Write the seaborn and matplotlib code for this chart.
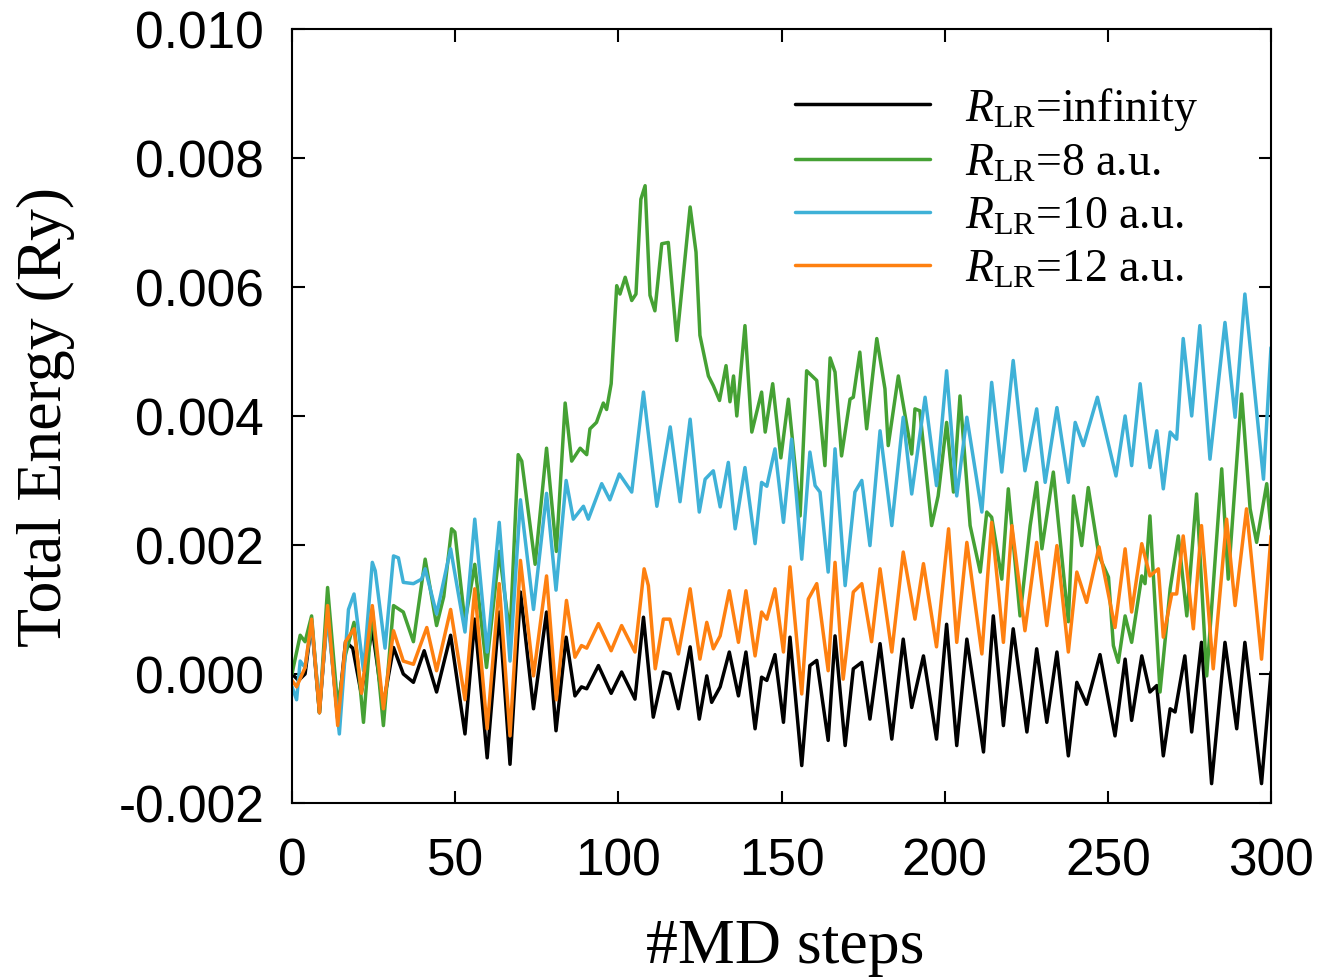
import numpy as np
import pandas as pd
import matplotlib
matplotlib.use("Agg")
import matplotlib.pyplot as plt
import seaborn as sns

# ---- total-energy drift along the MD trajectory (turning points of each curve) ----
steps_inf = [0, 2, 4, 6, 8.4, 10.9, 14, 16.4, 18.6, 21.2, 24.6, 27.9, 31.1, 34.1, 37.2, 40.5,
             44.3, 48.6, 53, 56, 59.8, 63.5, 66.8, 70, 74, 78, 80.9, 84, 86.7, 88.7, 90.3,
             93.9, 97.8, 101, 105.1, 107.7, 110.7, 113.8, 115.8, 118.4, 122, 124.8, 127.1,
             128.6, 131.2, 134, 136.8, 139.1, 141.9, 143.9, 145.5, 148, 150.6, 152.6, 156.2,
             158.7, 160.8, 164.3, 166.4, 169.5, 172, 174.6, 177.1, 180.2, 183.8, 187.3, 189.9,
             193.5, 197.5, 200.6, 203.7, 206.8, 211.9, 214.9, 218, 221, 225.2, 228.2, 231.3,
             234.4, 237.9, 240.5, 243.5, 247.6, 252.2, 255.3, 257.3, 260.4, 262.9, 265, 267,
             269.1, 270.6, 273.6, 275.7, 278.7, 281.8, 285.9, 289.5, 292, 297.1, 300]
energy_inf = [0.0, -0.0001, 0.0, 0.0008, -0.0006, 0.001, -0.0007, 0.0005, 0.0004, -0.0003,
              0.0007, -0.0005, 0.00041, 0.0, -0.00013, 0.00036, -0.00028, 0.0006, -0.00093,
              0.00085, -0.0013, 0.00096, -0.0014, 0.00127, -0.00054, 0.00096, -0.00088, 0.00057,
              -0.00034, -0.0002, -0.00023, 0.00013, -0.0003, 0.00003, -0.00039, 0.00088,
              -0.00067, 0.00003, 0.0, -0.00054, 0.00042, -0.0007, -0.00003, -0.00044, -0.0002,
              0.00034, -0.00034, 0.00034, -0.00085, -0.00005, -0.0001, 0.0003, -0.00075,
              0.00057, -0.00142, 0.00013, 0.00021, -0.00103, 0.00059, -0.00111, 0.00008,
              0.00018, -0.0007, 0.00047, -0.00101, 0.00054, -0.00052, 0.00028, -0.00101,
              0.00077, -0.00111, 0.00054, -0.00121, 0.0009, -0.0008, 0.0007, -0.0009, 0.00039,
              -0.00075, 0.00034, -0.00127, -0.00013, -0.00047, 0.0003, -0.00096, 0.00023,
              -0.00072, 0.00028, -0.00028, -0.00018, -0.00127, -0.00054, -0.00059, 0.00028,
              -0.0009, 0.00049, -0.0017, 0.00049, -0.00085, 0.00049, -0.0017, 0.00003]

steps_8 = [0, 0.4, 2.5, 4, 6, 8.4, 10.9, 14, 16.4, 19, 21.9, 24.6, 28, 31.1, 34.1, 37.2, 40.8,
           44.3, 46.5, 48.9, 49.9, 53, 56, 59.6, 63.5, 66.8, 69.3, 70.4, 74.5, 78, 81, 83.7,
           85.7, 88.3, 90.3, 91.3, 93.3, 95.4, 96.4, 97.8, 99.5, 100.5, 102.1, 104.1, 105.4,
           106.9, 108.2, 109.7, 111.2, 113.3, 115.3, 117.9, 122, 123.8, 125, 127.6, 129.1, 131,
           133, 134.2, 135.3, 136.3, 138.8, 140.9, 143.9, 145, 147.3, 149.8, 152.1, 155.7,
           157.7, 160.8, 163.3, 164.9, 166.4, 168.4, 171, 172, 174, 176.1, 179.2, 181.7, 182.7,
           185.8, 189.9, 190.9, 192.4, 196, 198, 200.6, 202.7, 204.7, 207.8, 210.9, 212.9,
           214.4, 217.5, 219.5, 223.1, 226.2, 228.2, 229.8, 233.3, 237.9, 239.5, 242, 244,
           247.3, 250.2, 251.7, 253.2, 255.3, 257.3, 260.4, 261.4, 262.9, 266, 269.1, 271.6,
           274.2, 277.2, 280.3, 284.9, 286.9, 291, 293.6, 295.6, 298.7, 300]
energy_8 = [0.0, 0.0001, 0.0006, 0.0005, 0.0009, -0.0006, 0.00134, -0.0005, 0.0003, 0.0008,
            -0.00075, 0.001, -0.0008, 0.00106, 0.00096, 0.0005, 0.00178, 0.00075, 0.0012,
            0.00225, 0.0022, 0.0008, 0.0017, 0.0001, 0.0019, 0.0006, 0.0034, 0.0033, 0.0017,
            0.0035, 0.0019, 0.0042, 0.0033, 0.0035, 0.0034, 0.0038, 0.0039, 0.0042, 0.0041,
            0.0045, 0.00602, 0.00589, 0.00615, 0.00579, 0.00589, 0.00736, 0.00757, 0.00587,
            0.00563, 0.00667, 0.00669, 0.00517, 0.00724, 0.00654, 0.00525, 0.00462, 0.00447,
            0.00424, 0.00478, 0.00422, 0.00462, 0.004, 0.0054, 0.00375, 0.00437, 0.00375,
            0.0045, 0.00335, 0.00426, 0.00245, 0.0047, 0.00455, 0.00323, 0.0049, 0.00468,
            0.00338, 0.00426, 0.00429, 0.00499, 0.0038, 0.0052, 0.00442, 0.00354, 0.00462,
            0.00341, 0.00411, 0.00408, 0.0023, 0.00276, 0.0039, 0.00282, 0.00431, 0.0023,
            0.00158, 0.00251, 0.00243, 0.00147, 0.00287, 0.0009, 0.0023, 0.00297, 0.00194,
            0.00313, 0.00081, 0.00276, 0.00199, 0.00289, 0.00183, 0.0015, 0.00044, 0.00018,
            0.0009, 0.00049, 0.00152, 0.0014, 0.00245, -0.00028, 0.00132, 0.00214, 0.0009,
            0.00279, -0.00003, 0.00318, 0.00147, 0.00434, 0.00256, 0.00204, 0.00295, 0.00225]

steps_10 = [0, 1.4, 2.5, 4, 6, 8.4, 10.9, 14.5, 17.3, 19, 21.9, 24.6, 25.5, 28.5, 31.1, 32.6,
            34.1, 37.2, 39.7, 40.8, 44.3, 48.6, 53, 56, 59.8, 63.5, 66.8, 70, 74, 78, 80.9, 84,
            86.2, 89.3, 90.8, 94.9, 97.4, 100.3, 104.1, 107.7, 111.8, 115.9, 118.9, 122, 124.8,
            126.6, 129.1, 131.2, 133.7, 135.8, 138.8, 141.9, 143.9, 145.5, 148, 150.6, 153.1,
            156.2, 158.7, 160.3, 161.8, 164.3, 166.4, 169.5, 172.5, 174.6, 177.1, 180.2, 183.8,
            187.3, 189.9, 194, 197.5, 200.6, 203.7, 206.8, 211.4, 214.4, 217.5, 221, 224.6,
            228.2, 230.8, 234.4, 237.9, 240, 242.5, 246.8, 252.5, 255.3, 257.3, 259.9, 262.9,
            265, 267, 269.1, 271.1, 273.1, 275.7, 278.2, 281.3, 285.9, 289, 292, 297.7, 300]
energy_10 = [-0.0002, -0.0004, 0.0002, 0.0001, 0.0008, -0.0005, 0.0009, -0.00093, 0.001,
             0.00124, 0.00005, 0.00173, 0.0016, 0.0004, 0.00183, 0.0018, 0.00142, 0.0014,
             0.00147, 0.00163, 0.00093, 0.00194, 0.00065, 0.0024, 0.00034, 0.00235, 0.0002,
             0.0027, 0.001, 0.0028, 0.0013, 0.003, 0.0024, 0.0026, 0.0024, 0.00295, 0.0027,
             0.0031, 0.00282, 0.00437, 0.0026, 0.00383, 0.00267, 0.00395, 0.00251, 0.00302,
             0.00315, 0.00259, 0.00328, 0.00225, 0.0032, 0.00202, 0.00297, 0.00291, 0.00349,
             0.00235, 0.00364, 0.00178, 0.00344, 0.00292, 0.00282, 0.00158, 0.00349, 0.00137,
             0.00282, 0.003, 0.00199, 0.00377, 0.0023, 0.00398, 0.00279, 0.00429, 0.00292,
             0.0047, 0.00276, 0.00398, 0.00251, 0.00452, 0.00313, 0.00486, 0.00315, 0.00411,
             0.00297, 0.00413, 0.00297, 0.0039, 0.00354, 0.00429, 0.00307, 0.004, 0.00323,
             0.0045, 0.0032, 0.00377, 0.00287, 0.00375, 0.00364, 0.0052, 0.004, 0.0054,
             0.00333, 0.00545, 0.00398, 0.00589, 0.00302, 0.00506]

steps_12 = [0, 1.4, 4, 6, 8.4, 10.9, 14, 16.4, 19, 21.3, 24.6, 28, 31.1, 34.1, 37.2, 41.3,
            44.3, 48.6, 53, 56, 59.8, 63.5, 66.8, 70, 74, 78, 81, 84.1, 86.7, 88.7, 90.3, 93.9,
            97.8, 101, 105.1, 107.9, 109.2, 111.3, 113.8, 115.8, 118.4, 122, 125, 127.1, 129.1,
            131.2, 134, 136.8, 139.1, 141.9, 143.9, 145.5, 148, 150.6, 152.6, 156.2, 158.2,
            160.8, 164.3, 166.4, 168.9, 172, 174.6, 177.6, 180.2, 183.8, 187.3, 190.9, 193.5,
            197.5, 201.2, 203.7, 206.8, 211.4, 214.4, 218, 220.6, 224.6, 228.2, 231.3, 234.4,
            237.9, 240.5, 243.5, 247.3, 252.2, 255.3, 257.3, 260.4, 262.9, 265.5, 267, 269.6,
            271.1, 273.1, 276.2, 278.7, 282.3, 286.4, 289, 292.5, 297.1, 300]
energy_12 = [-0.0001, -0.0002, 0.0001, 0.00085, -0.0006, 0.00106, -0.0008, 0.0005, 0.0007,
             -0.0003, 0.00106, -0.00054, 0.00067, 0.0002, 0.00015, 0.00072, 0.00005, 0.001,
             -0.0004, 0.00132, -0.00085, 0.0014, -0.00096, 0.00176, -0.00003, 0.00152, -0.0004,
             0.00114, 0.00026, 0.00044, 0.0004, 0.00078, 0.00036, 0.00075, 0.00034, 0.00163,
             0.00137, 0.00008, 0.00085, 0.00085, 0.00031, 0.00132, 0.00023, 0.0008, 0.00039,
             0.00059, 0.00129, 0.00049, 0.00129, 0.00028, 0.00096, 0.00085, 0.00132, 0.00034,
             0.00166, -0.00031, 0.00116, 0.0014, 0.00005, 0.00173, -0.00008, 0.00127, 0.0014,
             0.0005, 0.00163, 0.00034, 0.00189, 0.00085, 0.00171, 0.00042, 0.00225, 0.00049,
             0.00204, 0.00031, 0.00235, 0.00049, 0.0023, 0.00067, 0.00204, 0.00075, 0.00199,
             0.00034, 0.00158, 0.00111, 0.00197, 0.00072, 0.00194, 0.00096, 0.00202, 0.00152,
             0.00163, 0.00057, 0.00124, 0.00124, 0.00214, 0.0007, 0.0023, 0.00008, 0.0024,
             0.00106, 0.00256, 0.00023, 0.00214]

series_names = ["inf", "8", "10", "12"]
series_labels = [r"$R_{\mathrm{LR}}$=infinity", r"$R_{\mathrm{LR}}$=8 a.u.",
                 r"$R_{\mathrm{LR}}$=10 a.u.", r"$R_{\mathrm{LR}}$=12 a.u."]
series_colors = ["#000000", "#45a134", "#3fb1d7", "#fe8010"]
x_ticks = [0, 50, 100, 150, 200, 250, 300]
y_ticks = [-0.002, 0.0, 0.002, 0.004, 0.006, 0.008, 0.010]

frames = []
for name, xs, ys in zip(series_names,
                        [steps_inf, steps_8, steps_10, steps_12],
                        [energy_inf, energy_8, energy_10, energy_12]):
    frames.append(pd.DataFrame({"step": xs, "energy": ys, "run": name}))
df = pd.concat(frames, ignore_index=True)

sns.set_theme(style="ticks")
plt.rcParams["font.family"] = ["Liberation Sans", "DejaVu Sans"]
plt.rcParams["mathtext.fontset"] = "custom"
plt.rcParams["mathtext.rm"] = "Liberation Serif"
plt.rcParams["mathtext.it"] = "Liberation Serif:italic"
plt.rcParams["axes.unicode_minus"] = False
plt.rcParams["text.color"] = "black"
plt.rcParams["axes.labelcolor"] = "black"
plt.rcParams["lines.solid_joinstyle"] = "round"
plt.rcParams["lines.solid_capstyle"] = "round"

fig = plt.figure(figsize=(13.19, 9.79), dpi=100)
ax = fig.add_axes([0.2214, 0.1788, 0.7422, 0.7906])

palette = dict(zip(series_names, series_colors))
sns.lineplot(data=df, x="step", y="energy", hue="run", hue_order=series_names,
             palette=palette, estimator=None, sort=False, linewidth=2.5,
             legend=False, ax=ax)

ax.set_xlim(0, 300)
ax.set_ylim(-0.002, 0.010)
ax.set_xticks(x_ticks)
ax.set_yticks(y_ticks)
ax.set_yticklabels([f"{v:.3f}" for v in y_ticks])
ax.set_xticklabels([str(v) for v in x_ticks])

for side in ["top", "right", "bottom", "left"]:
    ax.spines[side].set_visible(True)
    ax.spines[side].set_linewidth(1.5)
    ax.spines[side].set_color("black")
ax.tick_params(axis="both", which="major", direction="in", length=9, width=1.5,
               top=True, right=True, labelsize=37, colors="black")
ax.tick_params(axis="y", pad=20)
ax.tick_params(axis="x", pad=24)

ax.set_xlabel("#MD steps", family="Liberation Serif", fontsize=46, color="black")
ax.set_ylabel("Total Energy (Ry)", family="Liberation Serif", fontsize=46, color="black")
ax.xaxis.set_label_coords(0.5036, -0.148)
ax.yaxis.set_label_coords(-0.222, 0.50)

handles = [ax.get_lines()[i] for i in range(len(series_names))]
leg = ax.legend(handles, series_labels, loc="upper left", bbox_to_anchor=(0.514, 0.928),
                frameon=False, handlelength=2.95, handletextpad=0.75,
                labelspacing=0.23, borderpad=0, borderaxespad=0,
                prop={"family": "Liberation Serif", "size": 33})

fig.savefig("out.png", dpi=100, facecolor="white")
